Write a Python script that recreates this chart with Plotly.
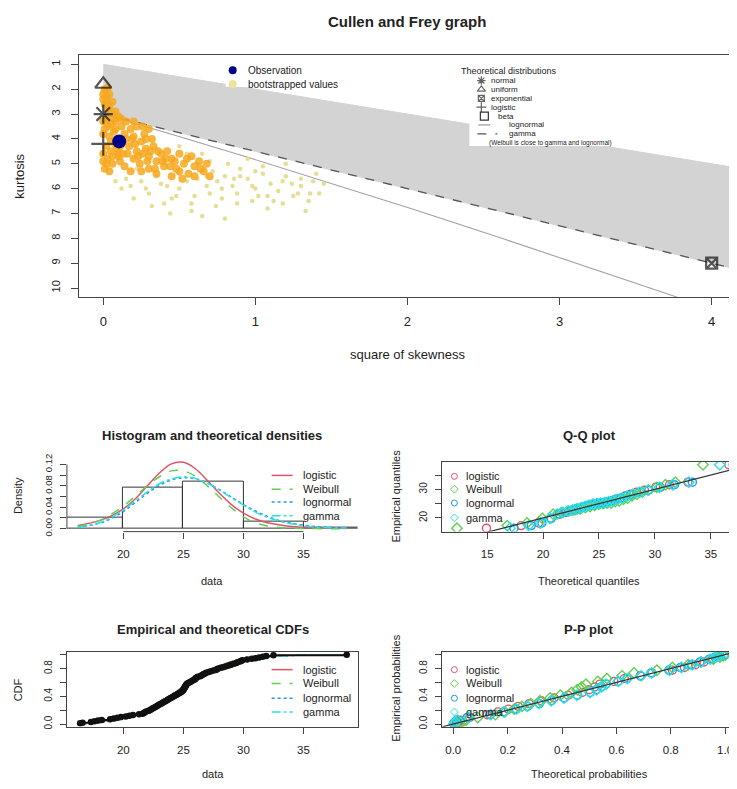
import plotly.graph_objects as go

# The page body has an 8px default margin; the figure is sized/positioned to compensate.
OFF = 8
REF_W, REF_H = 737, 789
W, H = REF_W - OFF, REF_H - OFF
FONT = "Liberation Sans, Arial, sans-serif"
TXT = "#222222"
AX = "#444444"

# ---------------- Cullen and Frey graph data ----------------
beta_region_s2 = [0.0, 4.16, 4.16, 0.0]
beta_region_kurt = [1.0, 5.16, 9.24, 3.0]
gamma_line_s2 = [0.0, 4.16]
gamma_line_kurt = [3.0, 9.24]
lognormal_line_s2 = [0.0, 0.091, 0.465, 0.961, 1.488, 2.048, 2.64, 3.267, 3.77]
lognormal_line_kurt = [3.0, 3.16, 3.84, 4.76, 5.76, 6.85, 8.04, 9.32, 10.36]

boot_dense_s2 = [0.01, 0.02, 0.04, 0.01, 0.03, 0.06, 0.08, 0.02, 0.05, 0.10,
                 0.01, 0.04, 0.07, 0.12, 0.02, 0.05, 0.09, 0.03, 0.06, 0.01,
                 0.13, 0.15, 0.11,
                 0.15, 0.18, 0.20, 0.17, 0.22, 0.25, 0.28, 0.20, 0.24, 0.30,
                 0.33, 0.35, 0.38, 0.40, 0.30, 0.27, 0.22, 0.32, 0.14, 0.18,
                 0.42, 0.45, 0.48, 0.50, 0.53, 0.56, 0.60, 0.63, 0.66, 0.45,
                 0.52, 0.58, 0.70,
                 0.12, 0.20, 0.26, 0.30, 0.00, 0.00, 0.00, 0.03, 0.08, 0.10,
                 0.00, 0.02, 0.04, 0.06, 0.08, 0.00, 0.03, 0.05, 0.07, 0.09,
                 0.11, 0.00, 0.02, 0.04, 0.06, 0.08, 0.10, 0.12, 0.14, 0.16,
                 0.19, 0.21, 0.23, 0.26, 0.29, 0.31, 0.34, 0.36, 0.39, 0.41,
                 0.44, 0.47, 0.50, 0.55, 0.60, 0.64, 0.68, 0.35, 0.25, 0.28]
boot_dense_kurt = [2.0, 2.3, 2.2, 2.6, 2.8, 2.5, 2.9, 3.2, 3.4, 3.1,
                   3.6, 3.9, 3.7, 3.5, 4.3, 4.5, 4.4, 4.8, 5.0, 5.2,
                   4.6, 4.0, 4.9,
                   3.3, 3.6, 3.9, 4.3, 4.5, 4.1, 4.4, 4.8, 5.0, 4.7,
                   4.3, 4.9, 4.6, 5.1, 5.2, 3.8, 3.5, 4.0, 5.1, 5.3,
                   4.5, 4.8, 5.2, 4.6, 5.0, 5.4, 5.1, 4.9, 5.3, 5.5,
                   5.6, 4.7, 5.5,
                   3.2, 3.3, 3.5, 3.6, 2.4, 3.3, 4.6, 1.95, 4.2, 4.7,
                   2.2, 2.5, 2.7, 3.0, 3.3, 3.8, 3.5, 4.1, 3.2, 4.0,
                   4.3, 4.9, 5.0, 5.3, 4.7, 3.6, 4.6, 4.2, 3.8, 4.6,
                   4.0, 4.2, 4.7, 4.6, 4.9, 4.5, 5.2, 4.5, 4.9, 4.8,
                   5.1, 4.9, 5.3, 4.8, 5.5, 5.2, 5.0, 5.4, 5.3, 4.0]

boot_sparse_s2 = [0.15, 0.25, 0.35, 0.42, 0.50, 0.55, 0.62, 0.68, 0.72, 0.75,
                  0.80, 0.85, 0.90, 0.95, 1.00, 1.05, 1.10, 1.15, 1.20, 1.25,
                  1.30, 1.35, 1.42, 0.60, 0.70, 0.78, 0.88, 0.98, 1.08, 1.18,
                  0.65, 0.80, 0.40, 0.30, 0.20, 0.55, 0.70, 0.82, 0.95, 1.05,
                  0.35, 0.50, 0.65, 1.20, 1.40, 0.12, 1.33, 1.45,
                  0.18, 0.28, 0.38, 0.48, 0.58, 0.68, 0.78, 0.88, 0.98, 1.08,
                  1.18, 1.28, 1.38, 0.22, 0.32, 0.45, 0.58, 0.74, 0.90, 1.02,
                  1.12, 1.24, 1.36, 0.08, 0.50, 0.62, 0.86, 1.00, 1.30, 0.44]
boot_sparse_kurt = [5.6, 5.7, 5.5, 5.9, 6.0, 5.7, 5.6, 5.9, 5.3, 5.7,
                    5.5, 5.9, 5.2, 5.6, 6.0, 5.4, 5.8, 6.1, 5.5, 6.3,
                    5.9, 6.5, 6.2, 6.3, 6.2, 6.4, 6.6, 6.5, 6.8, 6.6,
                    7.1, 7.2, 6.6, 6.2, 6.4, 4.6, 4.9, 5.0, 4.8, 5.1,
                    4.4, 4.3, 4.6, 5.0, 5.4, 6.0, 6.9, 5.8,
                    5.9, 6.0, 5.8, 6.3, 6.6, 5.5, 6.0, 6.2, 5.9, 6.3,
                    5.7, 6.2, 5.7, 5.2, 6.7, 6.4, 6.9, 6.7, 5.5, 6.3,
                    6.5, 5.8, 6.2, 5.7, 5.4, 5.0, 5.6, 5.3, 5.6, 7.0]

obs_s2 = [0.105]
obs_kurt = [4.1]
theo_dist_names = ["normal", "uniform", "exponential", "logistic"]
theo_dist_s2 = [0.0, 0.0, 4.0, 0.0]
theo_dist_kurt = [3.0, 1.8, 9.0, 4.2]
theo_dist_symbols = ["asterisk-open", "triangle-up-open", "square-x-open", "cross-thin-open"]

# ---------------- sample data (sorted, n = 100) ----------------
sample_data = [16.4, 16.6, 17.3, 17.6, 17.9, 18.2, 18.9, 19.2, 19.5, 19.8,
               20.2, 20.5, 20.8, 21.3, 21.6, 21.7, 21.8, 21.9,
               22.1, 22.2, 22.3, 22.4, 22.5, 22.6, 22.7, 22.8, 22.9, 23.0,
               23.1, 23.2, 23.3, 23.4, 23.5, 23.6, 23.7, 23.8, 23.9, 24.0,
               24.1, 24.2, 24.3, 24.4, 24.5, 24.6, 24.7, 24.8, 24.85, 24.95,
               25.0, 25.0, 25.05, 25.1, 25.1, 25.15, 25.2, 25.2, 25.25, 25.3,
               25.4, 25.5, 25.6, 25.7, 25.8, 25.9, 26.0, 26.0,
               26.1, 26.2, 26.4, 26.5, 26.6, 26.7, 26.8, 26.9,
               27.1, 27.3, 27.5, 27.7, 27.8, 27.9,
               28.1, 28.3, 28.5, 28.7, 28.9, 29.0,
               29.2, 29.4, 29.5, 29.7, 29.8, 29.9,
               30.3, 30.7, 31.0, 31.3, 31.6, 31.9, 32.5, 38.6]

fit_names = ["logistic", "Weibull", "lognormal", "gamma"]
fit_colors = ["#DF536B", "#61D04F", "#2297E6", "#28E2E5"]
fit_dashes = ["solid", "dash", "dot", "dashdot"]
fit_symbols = ["circle-open", "diamond-open", "circle-open", "diamond-open"]

# theoretical densities
dens_x = [16.2, 18, 19, 20, 21, 22, 23, 24, 25, 26, 27, 28, 29, 30, 31, 32, 33, 34, 36, 38.6]
dens_logistic = [0.006, 0.015, 0.024, 0.037, 0.056, 0.080, 0.104, 0.121, 0.124, 0.112,
                 0.090, 0.066, 0.045, 0.029, 0.018, 0.011, 0.007, 0.004, 0.0015, 0.0004]
dens_weibull = [0.004, 0.015, 0.027, 0.042, 0.061, 0.080, 0.097, 0.108, 0.108, 0.098,
                0.080, 0.059, 0.039, 0.022, 0.011, 0.005, 0.002, 0.0008, 0.0001, 0.0]
dens_lognormal = [0.002, 0.010, 0.019, 0.032, 0.049, 0.066, 0.081, 0.091, 0.095, 0.093,
                  0.085, 0.073, 0.059, 0.045, 0.033, 0.023, 0.015, 0.010, 0.004, 0.001]
dens_gamma = [0.002, 0.011, 0.021, 0.035, 0.052, 0.069, 0.084, 0.093, 0.097, 0.094,
              0.085, 0.072, 0.058, 0.044, 0.031, 0.021, 0.014, 0.009, 0.003, 0.001]

# theoretical CDFs
cdf_x = [16.2, 18, 20, 22, 24, 25, 26, 28, 30, 32, 34, 36, 38.6]
cdf_logistic = [0.01, 0.03, 0.08, 0.20, 0.42, 0.55, 0.67, 0.84, 0.93, 0.97, 0.99, 0.995, 0.999]
cdf_weibull = [0.005, 0.02, 0.07, 0.19, 0.41, 0.53, 0.64, 0.84, 0.95, 0.99, 1.0, 1.0, 1.0]
cdf_lognormal = [0.003, 0.02, 0.08, 0.21, 0.42, 0.53, 0.63, 0.80, 0.91, 0.96, 0.985, 0.995, 0.999]
cdf_gamma = [0.003, 0.02, 0.08, 0.21, 0.42, 0.53, 0.64, 0.81, 0.91, 0.965, 0.988, 0.996, 0.999]

# Q-Q plot: empirical quantiles vs theoretical quantiles
qq_empirical = [16.4, 17.3, 18.2, 19.8, 21.3, 21.9, 22.4, 22.8, 23.2, 23.6, 24.0, 24.4, 24.8, 25.0,
                25.15, 25.3, 25.7, 26.0, 26.5, 26.9, 27.7, 28.3, 29.0, 29.7, 30.7, 31.6, 32.5, 38.6]
qq_logistic = [14.94, 18.04, 19.60, 20.72, 21.47, 22.05, 22.54, 22.96, 23.34, 23.70, 24.03, 24.35,
               24.66, 24.96, 25.27, 25.57, 25.89, 26.22, 26.56, 26.94, 27.35, 27.82, 28.37, 29.07,
               30.07, 31.30, 32.95, 36.6]
qq_weibull = [12.3, 16.80, 18.57, 19.94, 20.90, 21.65, 22.28, 22.83, 23.33, 23.78, 24.20, 24.60,
              24.99, 25.36, 25.73, 26.09, 26.45, 26.81, 27.18, 27.56, 27.96, 28.40, 28.88, 29.44,
              30.16, 30.94, 31.83, 34.3]
qq_lognormal = [17.40, 18.94, 19.90, 20.70, 21.30, 21.79, 22.23, 22.63, 23.01, 23.37, 23.71, 24.05,
                24.39, 24.73, 25.07, 25.42, 25.78, 26.16, 26.56, 26.99, 27.47, 28.00, 28.63, 29.41,
                30.48, 31.75, 33.35, 37.0]
qq_gamma = [17.05, 18.72, 19.76, 20.62, 21.25, 21.77, 22.24, 22.65, 23.04, 23.41, 23.77, 24.11,
            24.46, 24.80, 25.15, 25.50, 25.86, 26.24, 26.63, 27.06, 27.52, 28.04, 28.65, 29.39,
            30.40, 31.58, 33.03, 35.8]

# P-P plot: empirical probabilities vs theoretical probabilities
pp_empirical = [0.005, 0.025, 0.055, 0.095, 0.135, 0.175, 0.215, 0.255, 0.295, 0.335, 0.375, 0.415,
                0.455, 0.495, 0.535, 0.575, 0.615, 0.655, 0.695, 0.735, 0.775, 0.815, 0.855, 0.895,
                0.935, 0.965, 0.985, 0.995]
pp_logistic = [0.0107, 0.0171, 0.0272, 0.061, 0.125, 0.164, 0.203, 0.239, 0.279, 0.324, 0.371, 0.422,
               0.474, 0.500, 0.520, 0.539, 0.591, 0.629, 0.688, 0.731, 0.806, 0.850, 0.891, 0.922,
               0.953, 0.970, 0.981, 0.9992]
pp_weibull = [0.0207, 0.0315, 0.0469, 0.090, 0.155, 0.190, 0.224, 0.253, 0.285, 0.319, 0.356, 0.394,
              0.435, 0.456, 0.472, 0.488, 0.532, 0.565, 0.621, 0.665, 0.749, 0.806, 0.864, 0.911,
              0.957, 0.981, 0.993, 1.0]
pp_lognormal = [0.0013, 0.0044, 0.0123, 0.0511, 0.1355, 0.1846, 0.2318, 0.273, 0.3168, 0.362, 0.409,
                0.4566, 0.5038, 0.527, 0.5447, 0.5618, 0.6064, 0.6386, 0.689, 0.7267, 0.793, 0.835,
                0.875, 0.9076, 0.9416, 0.9624, 0.9763, 0.9994]
pp_gamma = [0.0025, 0.0068, 0.0160, 0.0570, 0.1380, 0.1860, 0.2320, 0.2720, 0.3150, 0.3600, 0.4070,
            0.4550, 0.5030, 0.5270, 0.5450, 0.5620, 0.6070, 0.6400, 0.6910, 0.7290, 0.7960, 0.8390,
            0.8790, 0.9110, 0.9450, 0.9650, 0.9785, 0.9996]

# ---------------- layout helpers (positions given in reference-image pixels) ----------------
def dom_x(a, b):
    return [max((a - OFF) / W, 0.0), min((b - OFF) / W, 1.0)]

def dom_y(top, bottom):
    return [max(1 - (bottom - OFF) / H, 0.0), min(1 - (top - OFF) / H, 1.0)]

def axis(domain, rng, tickvals, ticktext, anchor, size, standoff, ticklen=6,
         angle=None, showline=True):
    d = dict(domain=domain, range=rng, anchor=anchor, tickmode="array",
             tickvals=tickvals, ticktext=ticktext, ticks="outside", ticklen=ticklen,
             tickwidth=1, tickcolor=AX, showgrid=False, zeroline=False,
             showline=showline, mirror=showline, linecolor=AX, linewidth=1,
             tickfont=dict(family=FONT, size=size, color=TXT),
             ticklabelstandoff=standoff)
    if angle is not None:
        d["tickangle"] = angle
    return d

def label(x, y, s, size, bold=False, angle=0, xanchor="center"):
    return dict(x=(x - OFF) / W, y=1 - (y - OFF) / H, xref="paper", yref="paper",
                text=("<b>%s</b>" % s) if bold else s, showarrow=False,
                font=dict(family=FONT, size=size, color=TXT), textangle=angle,
                xanchor=xanchor, yanchor="middle")

fig = go.Figure()

# ---------------- top: Cullen and Frey ----------------
fig.add_trace(go.Scatter(x=beta_region_s2, y=beta_region_kurt, fill="toself",
                         fillcolor="#D3D3D3", line=dict(color="#D3D3D3", width=1),
                         mode="lines", xaxis="x", yaxis="y", hoverinfo="skip"))
fig.add_trace(go.Scatter(x=lognormal_line_s2, y=lognormal_line_kurt, mode="lines",
                         line=dict(color="#A0A0A0", width=1.1), xaxis="x", yaxis="y"))
fig.add_trace(go.Scatter(x=gamma_line_s2, y=gamma_line_kurt, mode="lines",
                         line=dict(color="#555555", width=1.3, dash="dash"),
                         xaxis="x", yaxis="y"))
fig.add_trace(go.Scatter(x=boot_sparse_s2, y=boot_sparse_kurt, mode="markers",
                         marker=dict(size=4.5, color="#E3DA86", opacity=0.9),
                         xaxis="x", yaxis="y"))
fig.add_trace(go.Scatter(x=boot_dense_s2, y=boot_dense_kurt, mode="markers",
                         marker=dict(size=8, color="#F6A81E", opacity=0.85),
                         xaxis="x", yaxis="y"))
fig.add_trace(go.Scatter(x=obs_s2, y=obs_kurt, mode="markers",
                         marker=dict(size=14, color="#00008B"), xaxis="x", yaxis="y"))
fig.add_trace(go.Scatter(x=theo_dist_s2, y=theo_dist_kurt, mode="markers",
                         text=theo_dist_names,
                         marker=dict(size=[16, 14, 11, 17], symbol=theo_dist_symbols,
                                     color="#111111", line=dict(color="#111111", width=2.2)),
                         xaxis="x", yaxis="y"))

# ---------------- histogram & densities ----------------
fig.add_trace(go.Histogram(x=sample_data, histnorm="probability density",
                           xbins=dict(start=15, end=40, size=5), autobinx=False,
                           marker=dict(color="rgba(255,255,255,0)",
                                       line=dict(color="#333333", width=1)),
                           xaxis="x2", yaxis="y2"))
for name, ys, col, dash in zip(fit_names, [dens_logistic, dens_weibull, dens_lognormal, dens_gamma],
                               fit_colors, fit_dashes):
    fig.add_trace(go.Scatter(x=dens_x, y=ys, mode="lines", name=name, line_shape="spline",
                             line=dict(color=col, width=1.5, dash=dash),
                             xaxis="x2", yaxis="y2"))

# ---------------- Q-Q plot ----------------
for name, xs, col, sym in zip(fit_names, [qq_logistic, qq_weibull, qq_lognormal, qq_gamma],
                              fit_colors, fit_symbols):
    fig.add_trace(go.Scatter(x=xs, y=qq_empirical, mode="markers", name=name,
                             marker=dict(size=8, symbol=sym, color=col, line=dict(width=1.4, color=col)),
                             xaxis="x3", yaxis="y3"))
fig.add_trace(go.Scatter(x=[10, 40], y=[10, 40], mode="lines",
                         line=dict(color="#333333", width=1.2), xaxis="x3", yaxis="y3"))

# ---------------- CDFs ----------------
for name, ys, col, dash in zip(fit_names, [cdf_logistic, cdf_weibull, cdf_lognormal, cdf_gamma],
                               fit_colors, fit_dashes):
    fig.add_trace(go.Scatter(x=cdf_x, y=ys, mode="lines", name=name, line_shape="spline",
                             line=dict(color=col, width=1.2, dash=dash),
                             xaxis="x4", yaxis="y4"))
n = len(sample_data)
ecdf_y = [(i + 1) / n for i in range(n)]
fig.add_trace(go.Scatter(x=sample_data, y=ecdf_y, mode="lines+markers", line_shape="hv",
                         line=dict(color="#111111", width=2),
                         marker=dict(size=6.5, color="#111111"), xaxis="x4", yaxis="y4"))

# ---------------- P-P plot ----------------
for name, xs, col, sym in zip(fit_names, [pp_logistic, pp_weibull, pp_lognormal, pp_gamma],
                              fit_colors, fit_symbols):
    fig.add_trace(go.Scatter(x=xs, y=pp_empirical, mode="markers", name=name,
                             marker=dict(size=8, symbol=sym, color=col, line=dict(width=1.4, color=col)),
                             xaxis="x5", yaxis="y5"))
fig.add_trace(go.Scatter(x=[-0.1, 1.1], y=[-0.1, 1.1], mode="lines",
                         line=dict(color="#333333", width=1.2), xaxis="x5", yaxis="y5"))

# ---------------- legend glyphs (overlay in reference pixel coordinates) ----------------
ov = dict(xaxis="x6", yaxis="y6", hoverinfo="skip")
fig.add_trace(go.Scatter(x=[226, 345, 345, 226], y=[51.5, 51.5, 82, 82], fill="toself",
                         fillcolor="white", mode="lines", line=dict(width=0, color="white"), **ov))
fig.add_trace(go.Scatter(x=[470, 635, 635, 470], y=[51.5, 51.5, 142, 142], fill="toself",
                         fillcolor="white", mode="lines", line=dict(width=0, color="white"), **ov))
fig.add_trace(go.Scatter(x=[233], y=[65], mode="markers", marker=dict(size=8, color="#00008B"), **ov))
fig.add_trace(go.Scatter(x=[233], y=[79], mode="markers", marker=dict(size=8, color="#EDE59C"), **ov))
leg2_y = [75.5, 84.5, 93.5, 102.5, 111.5, 120.5, 129.5, 138.5]
fig.add_trace(go.Scatter(x=[482, 482, 482, 482], y=leg2_y[:4], mode="markers",
                         marker=dict(size=[7, 7, 6, 7], symbol=theo_dist_symbols, color="#222",
                                     line=dict(color="#222", width=1.2)), **ov))
fig.add_trace(go.Scatter(x=[485], y=[leg2_y[4]], mode="markers",
                         marker=dict(size=8, symbol="square-open", color="#333",
                                     line=dict(color="#333", width=1.2)), **ov))
fig.add_trace(go.Scatter(x=[479, 491], y=[leg2_y[5]] * 2, mode="lines",
                         line=dict(color="#999999", width=1.2), **ov))
fig.add_trace(go.Scatter(x=[478, 498], y=[leg2_y[6]] * 2, mode="lines",
                         line=dict(color="#555555", width=1.2, dash="dash"), **ov))

hist_leg_y = [476, 490, 503, 517]
cdf_leg_y = [673, 687, 702, 716]
qq_leg_y = [477, 490, 504, 519]
pp_leg_y = [673, 687, 702, 716]
for i in range(4):
    fig.add_trace(go.Scatter(x=[272, 293], y=[hist_leg_y[i]] * 2, mode="lines",
                             line=dict(color=fit_colors[i], width=1.5, dash=fit_dashes[i]), **ov))
    fig.add_trace(go.Scatter(x=[272, 293], y=[cdf_leg_y[i]] * 2, mode="lines",
                             line=dict(color=fit_colors[i], width=1.5, dash=fit_dashes[i]), **ov))
    fig.add_trace(go.Scatter(x=[455], y=[qq_leg_y[i]], mode="markers",
                             marker=dict(size=6, symbol=fit_symbols[i], color=fit_colors[i],
                                         line=dict(width=1, color=fit_colors[i])), **ov))
    fig.add_trace(go.Scatter(x=[455], y=[pp_leg_y[i]], mode="markers",
                             marker=dict(size=6, symbol=fit_symbols[i], color=fit_colors[i],
                                         line=dict(width=1, color=fit_colors[i])), **ov))

# ---------------- axes ----------------
layout_axes = dict(
    xaxis=axis(dom_x(79, 737), [-0.16, 4.16], [0, 1, 2, 3, 4], ["0", "1", "2", "3", "4"],
               "y", 13, 5, ticklen=7),
    yaxis=axis(dom_y(50, 295), [10.36, 0.64], list(range(1, 11)), [str(v) for v in range(1, 11)],
               "x", 11, 7, ticklen=7, angle=-90),
    xaxis2=axis(dom_x(67, 358), [15.3, 39.5], [20, 25, 30, 35], ["20", "25", "30", "35"],
                "y2", 11.5, 6, showline=False),
    yaxis2=axis(dom_y(460, 533), [-0.0055, 0.129],
                [0, 0.02, 0.04, 0.06, 0.08, 0.10, 0.12],
                ["0.00", "", "0.04", "", "0.08", "", "0.12"], "x2", 9.5, 4, angle=-90,
                showline=False),
    xaxis3=axis(dom_x(443, 737), [11.0, 37.25], [15, 20, 25, 30, 35],
                ["15", "20", "25", "30", "35"], "y3", 11.5, 6),
    yaxis3=axis(dom_y(462, 533), [15.2, 39.7], [20, 25, 30, 35], ["20", "", "30", ""],
                "x3", 10, 4, angle=-90),
    xaxis4=axis(dom_x(67, 358), [15.3, 39.5], [20, 25, 30, 35], ["20", "25", "30", "35"],
                "y4", 11.5, 6),
    yaxis4=axis(dom_y(655, 731), [-0.04, 1.04], [0, 0.2, 0.4, 0.6, 0.8, 1.0],
                ["0.0", "", "0.4", "", "0.8", ""], "x4", 10, 4, angle=-90),
    xaxis5=axis(dom_x(443, 737), [-0.04, 1.04], [0, 0.2, 0.4, 0.6, 0.8, 1.0],
                ["0.0", "0.2", "0.4", "0.6", "0.8", "1.0"], "y5", 11.5, 6),
    yaxis5=axis(dom_y(655, 731), [-0.04, 1.04], [0, 0.2, 0.4, 0.6, 0.8, 1.0],
                ["0.0", "", "0.4", "", "0.8", ""], "x5", 10, 4, angle=-90),
    xaxis6=dict(domain=[0, 1], range=[OFF, REF_W], visible=False, anchor="y6", fixedrange=True),
    yaxis6=dict(domain=[0, 1], range=[REF_H, OFF], visible=False, anchor="x6", fixedrange=True),
)

annotations = [
    label(408, 16, "Cullen and Frey graph", 15, bold=True),
    label(20, 172, "kurtosis", 13, angle=-90),
    label(408, 353, "square of skewness", 13),
    label(246, 65, "Observation", 10, xanchor="left"),
    label(246, 79, "bootstrapped values", 10, xanchor="left"),
    label(460, 65.5, "Theoretical distributions", 9, xanchor="left"),
    label(490, leg2_y[0], "normal", 8, xanchor="left"),
    label(490, leg2_y[1], "uniform", 8, xanchor="left"),
    label(490, leg2_y[2], "exponential", 8, xanchor="left"),
    label(490, leg2_y[3], "logistic", 8, xanchor="left"),
    label(497, leg2_y[4], "beta", 8, xanchor="left"),
    label(508, leg2_y[5], "lognormal", 8, xanchor="left"),
    label(508, leg2_y[6], "gamma", 8, xanchor="left"),
    label(551, leg2_y[7], "(Weibull is close to gamma and lognormal)", 6.5),
    label(212, 436, "Histogram and theoretical densities", 13, bold=True),
    label(18, 496, "Density", 11, angle=-90),
    label(212, 583, "data", 11),
    label(590, 436, "Q-Q plot", 13, bold=True),
    label(397, 497, "Empirical quantiles", 11, angle=-90),
    label(590, 583, "Theoretical quantiles", 11),
    label(213, 632, "Empirical and theoretical CDFs", 13, bold=True),
    label(18, 693, "CDF", 11, angle=-90),
    label(213, 779, "data", 11),
    label(590, 632, "P-P plot", 13, bold=True),
    label(397, 692, "Empirical probabilities", 11, angle=-90),
    label(590, 779, "Theoretical probabilities", 11),
]
for i, nm in enumerate(fit_names):
    annotations.append(label(301, hist_leg_y[i], nm, 11, xanchor="left"))
    annotations.append(label(301, cdf_leg_y[i], nm, 11, xanchor="left"))
    annotations.append(label(465, qq_leg_y[i], nm, 11, xanchor="left"))
    annotations.append(label(465, pp_leg_y[i], nm, 11, xanchor="left"))

shapes = [
    dict(type="line", xref="x2", yref="y2 domain", x0=20, x1=35, y0=0, y1=0,
         line=dict(color=AX, width=1)),
    dict(type="line", xref="x2 domain", yref="y2", x0=0, x1=0, y0=0, y1=0.12,
         line=dict(color=AX, width=1)),
]

fig.update_layout(
    width=W, height=H, margin=dict(l=0, r=0, t=0, b=0),
    paper_bgcolor="white", plot_bgcolor="rgba(0,0,0,0)",
    showlegend=False, bargap=0, annotations=annotations, shapes=shapes,
    font=dict(family=FONT, color=TXT),
    **layout_axes,
)

fig.write_html("out.html")
